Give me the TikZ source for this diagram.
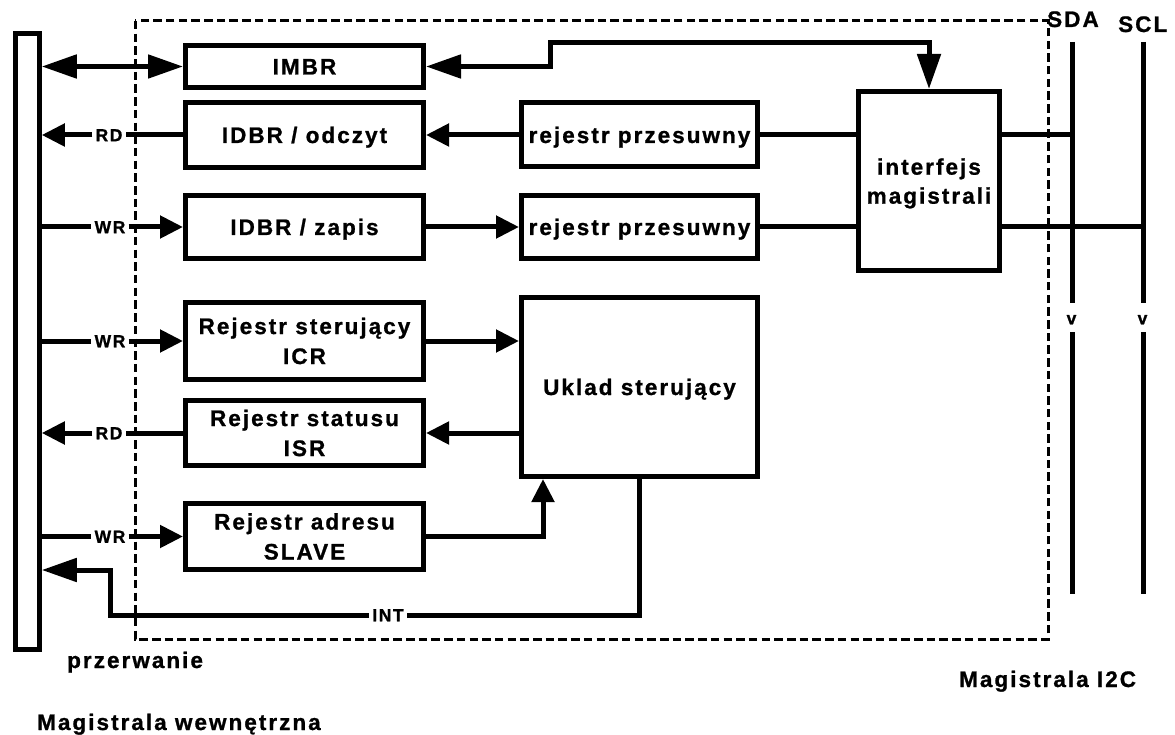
\documentclass[tikz,border=0pt]{standalone}
\usepackage{fontspec}
\setmainfont{Liberation Sans}[LetterSpace=9, BoldFeatures={FakeBold=1.0}]
\usetikzlibrary{arrows.meta}

\newcommand\figbig{\fontsize{22.5}{30}\selectfont\bfseries}
\newcommand\figsmall{\fontsize{17.5}{20}\selectfont\bfseries}

\tikzset{
  sarr/.tip={Triangle[length=23pt,width=22pt]},
  barr/.tip={Triangle[length=35pt,width=23pt]},
  wire/.style={line width=5pt},
  rail/.style={line width=5pt},
  frame/.style={line width=3pt, dash pattern=on 8.5pt off 4.2pt},
  box/.style={draw, line width=5pt, inner sep=0pt, font=\figbig, align=center},
  oneline/.style={text height=16pt, text depth=0pt},
  lbl/.style={inner xsep=3pt, inner ysep=0pt, font=\figsmall, text height=12.5pt, text depth=0pt},
  caption/.style={inner sep=0pt, font=\figbig},
}

\begin{document}
\begin{tikzpicture}[x=1pt, y=-1pt]
\useasboundingbox (0,0) rectangle (1175,735);

% module boundary
\draw[frame] (135,21) rectangle (1048,639);

% internal bus
\node[box, minimum width=23.5pt, minimum height=616pt] (bus) at (27.5,341.5) {};

% registers on the internal side
\node[box, oneline, minimum width=238pt, minimum height=42pt] (imbr) at (304.5,66.5) {IMBR};
\node[box, oneline, minimum width=238pt, minimum height=65pt] (idbrR) at (304.5,135) {IDBR / odczyt};
\node[box, oneline, minimum width=238pt, minimum height=63pt] (idbrW) at (304.5,227) {IDBR / zapis};
\node[box, minimum width=238pt, minimum height=77pt] (icr) at (304.5,341) {Rejestr sterujący\\ICR};
\node[box, minimum width=238pt, minimum height=65pt] (isr) at (304.5,433) {Rejestr statusu\\ISR};
\node[box, minimum width=238pt, minimum height=66pt] (slave) at (304.5,536.5) {Rejestr adresu\\SLAVE};

% shift registers and control logic
\node[box, oneline, minimum width=236pt, minimum height=64pt] (sh1) at (639.5,135) {rejestr przesuwny};
\node[box, oneline, minimum width=236pt, minimum height=63pt] (sh2) at (639.5,227) {rejestr przesuwny};
\node[box, oneline, minimum width=236pt, minimum height=179pt] (ctl) at (639.5,387) {Uklad sterujący};

% bus interface
\node[box, font=\fontsize{22.5}{29}\selectfont\bfseries, text depth=0pt, minimum width=141pt, minimum height=179pt] (ifc) at (929,181) {interfejs\\magistrali};

% I2C lines
\coordinate (sdaT) at (1072,42);
\coordinate (sdaU) at (1072,303);
\coordinate (sdaL) at (1072,332);
\coordinate (sdaB) at (1072,594);
\coordinate (sclT) at (1143,42);
\coordinate (sclU) at (1143,303);
\coordinate (sclL) at (1143,332);
\coordinate (sclB) at (1143,594);
\draw[rail] (sdaT) -- (sdaU);
\draw[rail] (sdaL) -- (sdaB);
\draw[rail] (sclT) -- (sclU);
\draw[rail] (sclL) -- (sclB);
\node[lbl, inner xsep=0pt, text height=9.5pt] (sdaV) at (1071.5,319.5) {v};
\node[lbl, inner xsep=0pt, text height=9.5pt] (sclV) at (1142.5,319.5) {v};

% signal labels
\node[lbl] (rd1) at (109,135) {RD};
\node[lbl] (wr1) at (110,227) {WR};
\node[lbl] (wr2) at (110,341) {WR};
\node[lbl] (rd2) at (109,433) {RD};
\node[lbl] (wr3) at (110,536.5) {WR};
\node[lbl] (int) at (388,615) {INT};

% internal bus connections
\draw[wire, barr-barr] (bus.east |- imbr.west) -- (imbr.west);
\draw[wire] (idbrR.west) -- (rd1.east);
\draw[wire, -sarr] (rd1.west) -- (bus.east |- rd1.west);
\draw[wire] (bus.east |- wr1.west) -- (wr1.west);
\draw[wire, -sarr] (wr1.east) -- (idbrW.west);
\draw[wire] (bus.east |- wr2.west) -- (wr2.west);
\draw[wire, -sarr] (wr2.east) -- (icr.west);
\draw[wire] (isr.west) -- (rd2.east);
\draw[wire, -sarr] (rd2.west) -- (bus.east |- rd2.west);
\draw[wire] (bus.east |- wr3.west) -- (wr3.west);
\draw[wire, -sarr] (wr3.east) -- (slave.west);

% data path
\draw[wire, -sarr] (sh1.west) -- (idbrR.east);
\draw[wire, -sarr] (idbrW.east) -- (sh2.west);
\draw[wire] (sh1.east) -- (ifc.west |- sh1.east);
\draw[wire] (sh2.east) -- (ifc.west |- sh2.east);
\coordinate (fb) at (550,43);
\draw[wire, barr-barr] (imbr.east) -| (fb) -| (ifc.north);
\draw[wire] (ifc.east |- sh1.east) -- (sdaT |- sh1.east);
\draw[wire] (ifc.east |- sh2.east) -- (sclT |- sh2.east);

% control path
\draw[wire, -sarr] (icr.east) -- (ctl.west |- icr.east);
\draw[wire, -sarr] (ctl.west |- isr.east) -- (isr.east);
\coordinate (adr) at ([xshift=-96.5pt]ctl.south);
\draw[wire, -sarr] (slave.east) -| (adr);
\draw[wire] (ctl.south) |- (int.east);
\coordinate (intk) at (110,570);
\draw[wire, -barr] (int.west) -| (intk) -- (bus.east |- intk);

% captions
\node[caption, anchor=base west] (sda) at (1047,27) {SDA};
\node[caption, anchor=base west] (scl) at (1118,32) {SCL};
\node[caption, anchor=base west] (przerw) at (67,668) {przerwanie};
\node[caption, anchor=base west] (magw) at (37,730) {Magistrala wewnętrzna};
\node[caption, anchor=base west] (magi) at (959,687) {Magistrala I2C};
\end{tikzpicture}
\end{document}
